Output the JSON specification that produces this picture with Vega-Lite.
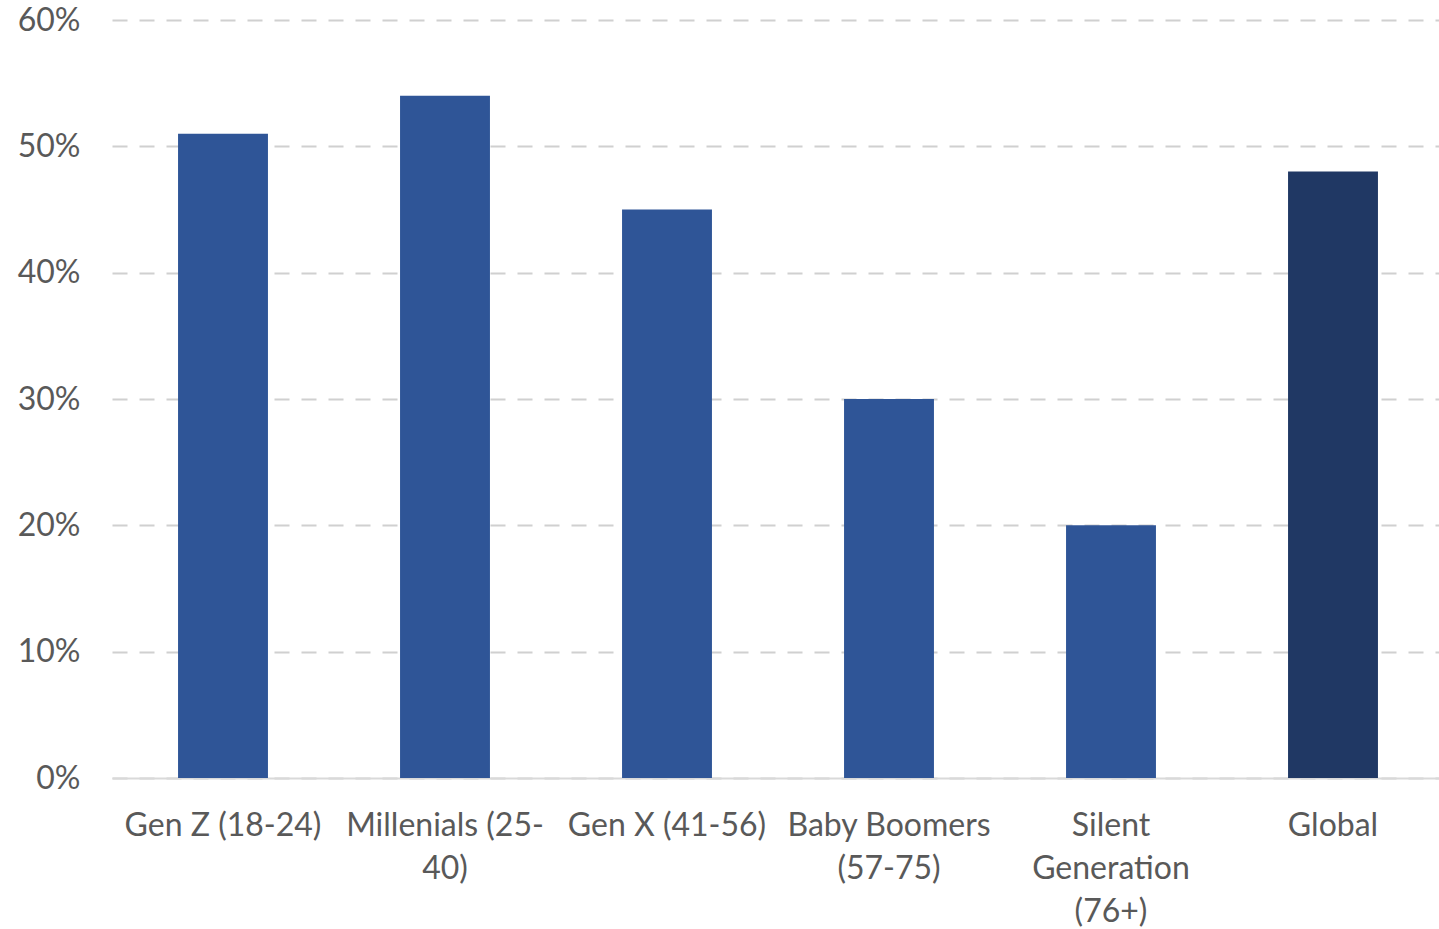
{
  "$schema": "https://vega.github.io/schema/vega-lite/v6.json",
  "autosize": "none",
  "padding": {"left": 112, "top": 20, "right": 0, "bottom": 151},
  "width": 1332,
  "height": 758,
  "background": "white",
  "config": {
    "view": {"stroke": null},
    "font": "Lato",
    "axis": {"labelFont": "Lato", "labelColor": "#595959", "labelFontSize": 32}
  },
  "data": {
    "values": [
      {"generation": "Gen Z (18-24)", "share": 0.51},
      {"generation": "Millenials (25-40)", "share": 0.54},
      {"generation": "Gen X (41-56)", "share": 0.45},
      {"generation": "Baby Boomers (57-75)", "share": 0.30},
      {"generation": "Silent Generation (76+)", "share": 0.20},
      {"generation": "Global", "share": 0.48}
    ]
  },
  "mark": {"type": "bar"},
  "encoding": {
    "x": {
      "field": "generation",
      "type": "nominal",
      "sort": null,
      "scale": {"paddingInner": 0.595, "paddingOuter": 0.2975},
      "axis": {
        "title": null,
        "labelAngle": 0,
        "ticks": false,
        "domain": true,
        "domainColor": "#D9D9D9",
        "domainWidth": 2,
        "labelPadding": 32,
        "labelLineHeight": 43,
        "labelLimit": 0,
        "labelExpr": "datum.value === 'Millenials (25-40)' ? ['Millenials (25-', '40)'] : datum.value === 'Baby Boomers (57-75)' ? ['Baby Boomers', '(57-75)'] : datum.value === 'Silent Generation (76+)' ? ['Silent', 'Generation', '(76+)'] : datum.value"
      }
    },
    "y": {
      "field": "share",
      "type": "quantitative",
      "scale": {"domain": [0, 0.6], "nice": false},
      "axis": {
        "title": null,
        "format": ".0%",
        "values": [0, 0.1, 0.2, 0.3, 0.4, 0.5, 0.6],
        "ticks": false,
        "domain": false,
        "labelPadding": 32,
        "grid": true,
        "gridColor": "#D0D0D0",
        "gridWidth": 2,
        "gridDash": [15, 12]
      }
    },
    "color": {
      "condition": {"test": "datum.generation === 'Global'", "value": "#203864"},
      "value": "#2F5597"
    }
  }
}
